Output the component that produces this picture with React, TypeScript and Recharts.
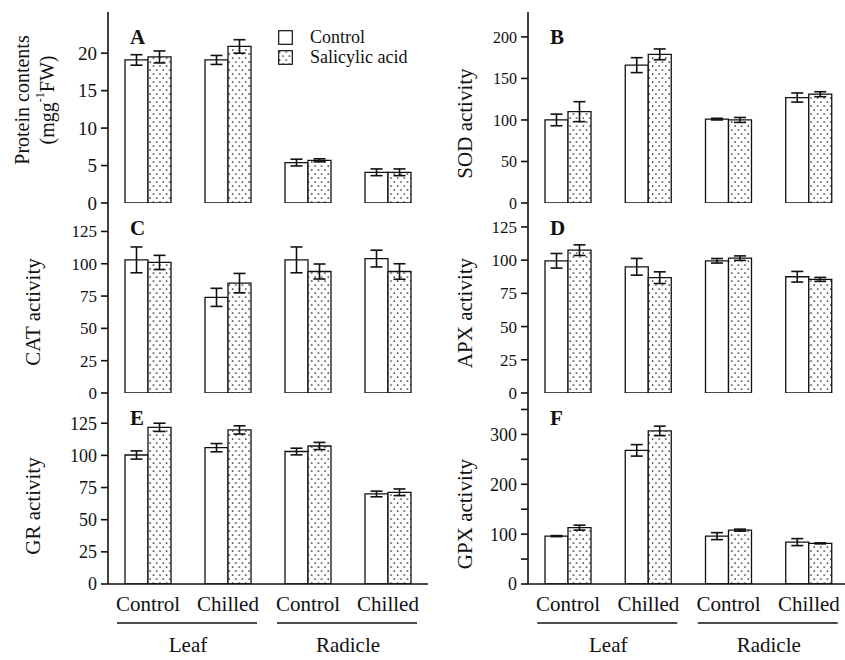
import React from "react";
import { BarChart, Bar, XAxis, YAxis, ErrorBar, Legend } from "recharts";

const treatments = ["Control", "Chilled", "Control", "Chilled"];
const tissues = ["Leaf", "Leaf", "Radicle", "Radicle"];

const proteinControl = [19.1, 19.1, 5.4, 4.1];
const proteinControlErr = [0.7, 0.6, 0.45, 0.45];
const proteinSA = [19.5, 20.9, 5.7, 4.1];
const proteinSAErr = [0.8, 0.9, 0.2, 0.45];

const sodControl = [100, 166, 101, 127];
const sodControlErr = [7, 9, 1, 5.5];
const sodSA = [110, 179, 100, 131];
const sodSAErr = [12, 6.5, 3, 3];

const catControl = [103, 74, 103, 104];
const catControlErr = [10, 7, 10, 6.5];
const catSA = [101, 85, 94, 94];
const catSAErr = [5.5, 7.5, 5.8, 6];

const apxControl = [99.5, 95, 99.5, 87.5];
const apxControlErr = [5.5, 6.3, 1.7, 4];
const apxSA = [107.5, 86.8, 101.5, 85.5];
const apxSAErr = [4, 4.4, 1.7, 1.5];

const grControl = [100.3, 106, 103, 70];
const grControlErr = [3.2, 3.2, 2.6, 2.2];
const grSA = [121.8, 119.8, 107.3, 71.3];
const grSAErr = [3.2, 3.2, 2.8, 2.6];

const gpxControl = [96, 268, 96, 84];
const gpxControlErr = [1, 11.5, 7, 7];
const gpxSA = [113, 307, 108, 81.5];
const gpxSAErr = [5, 9.5, 2, 1];

const FONT = '"Liberation Serif", "Times New Roman", serif';
const INK = "#111";

function rows(c: number[], ce: number[], s: number[], se: number[]) {
  return treatments.map((t, i) => ({
    treatment: t,
    tissue: tissues[i],
    control: c[i],
    controlErr: ce[i],
    sa: s[i],
    saErr: se[i],
  }));
}

const TissueTick = (props: any) => {
  const { x, y, payload } = props;
  return (
    <g>
      <line x1={x - 71} x2={x + 69} y1={y} y2={y} stroke={INK} strokeWidth={1.3} />
      <text x={x} y={y + 29} textAnchor="middle" fontSize={21} fontFamily={FONT} fill={INK}>
        {payload.value}
      </text>
    </g>
  );
};

const LegendBox = (props: any) => {
  const { payload } = props;
  return (
    <div style={{ fontFamily: FONT, fontSize: 18, color: INK }}>
      {(payload || []).map((p: any, i: number) => (
        <div key={i} style={{ display: "flex", alignItems: "center", height: 20 }}>
          <svg width={15} height={15}>
            <defs>
              <pattern id="legdots" width="6.6" height="8" patternUnits="userSpaceOnUse">
                <rect width="6.6" height="8" fill="#fff" />
                <circle cx="1.6" cy="2" r="0.85" fill="#222" />
                <circle cx="4.9" cy="6" r="0.85" fill="#222" />
              </pattern>
            </defs>
            <rect x={0.7} y={0.7} width={13.6} height={13.6} fill={i === 0 ? "#fff" : "url(#legdots)"} stroke={INK} strokeWidth={1.2} />
          </svg>
          <span style={{ marginLeft: 17, lineHeight: "20px" }}>{p.value}</span>
        </div>
      ))}
    </div>
  );
};

interface PanelProps {
  data: any[];
  domain: [number, number];
  ticks: number[];
  tickFont: number;
  title: string[];
  titleDy: number;
  letter: string;
  left: number;
  top: number;
  plotHeight: number;
  column: "left" | "right";
  bottomLabels?: boolean;
  topBorder?: boolean;
  legend?: boolean;
  tickFmt?: (v: number) => string;
}

function Panel(p: PanelProps) {
  const width = p.column === "left" ? 430 : 431;
  const below = p.bottomLabels ? 76 : 14;
  const height = 12 + p.plotHeight + below;
  const pid = `dots-${p.letter}`;
  const titleX = p.column === "left" ? 33 : 45;
  const axisLine = { stroke: INK, strokeWidth: 1.6 };

  const renderTitle = (props: any) => {
    const vb = props.viewBox;
    const cy = vb.y + vb.height / 2 + p.titleDy;
    const lx = vb.x + vb.width + 22;
    const ly = vb.y + 32;
    return (
      <g>
        {p.title.length === 1 ? (
          <text x={titleX} y={cy} transform={`rotate(-90 ${titleX} ${cy})`} textAnchor="middle" dominantBaseline="central" fontSize={21} fontFamily={FONT} fill={INK}>
            {p.title[0]}
          </text>
        ) : (
          p.title.map((t, i) => {
            const tx = 22 + i * 25;
            return (
              <text key={i} x={tx} y={cy} transform={`rotate(-90 ${tx} ${cy})`} textAnchor="middle" dominantBaseline="central" fontSize={20} fontFamily={FONT} fill={INK}>
                {i === 1 ? (
                  <>
                    (mgg<tspan fontSize={12} dy={-7}>-1</tspan>
                    <tspan dy={7}>FW)</tspan>
                  </>
                ) : (
                  t
                )}
              </text>
            );
          })
        )}
        <text x={lx} y={ly} fontSize={21} fontWeight="bold" fontFamily={FONT} fill={INK}>
          {p.letter}
        </text>
      </g>
    );
  };

  return (
    <div style={{ position: "absolute", left: p.left, top: p.top }}>
      <BarChart
        width={width}
        height={height}
        data={p.data}
        margin={{ top: 12, right: 2, bottom: p.bottomLabels ? 0 : 14, left: 0 }}
        barGap={0}
        barSize={23}
      >
        <defs>
          <pattern id={pid} width="6.6" height="8" patternUnits="userSpaceOnUse">
            <rect width="6.6" height="8" fill="#fff" />
            <circle cx="1.6" cy="2" r="0.85" fill="#222" />
            <circle cx="4.9" cy="6" r="0.85" fill="#222" />
          </pattern>
        </defs>
        <XAxis
          dataKey="treatment"
          height={p.bottomLabels ? 36 : 0}
          interval={0}
          tick={p.bottomLabels ? { fontSize: 21, fontFamily: FONT, fill: INK } : false}
          tickLine={false}
          tickSize={6}
          tickMargin={6}
          axisLine={axisLine}
        />
        {p.bottomLabels && (
          <XAxis
            xAxisId="tissue"
            dataKey="tissue"
            allowDuplicatedCategory={false}
            height={40}
            axisLine={false}
            tickLine={false}
            tickSize={3}
            tickMargin={0}
            interval={0}
            tick={<TissueTick />}
          />
        )}
        {p.topBorder && (
          <XAxis xAxisId="top" orientation="top" dataKey="treatment" height={0} tick={false} tickLine={false} axisLine={axisLine} />
        )}
        <YAxis
          width={108}
          domain={p.domain}
          ticks={p.ticks}
          allowDataOverflow
          interval={0}
          tickFormatter={p.tickFmt}
          tick={{ fontSize: p.tickFont, fontFamily: FONT, fill: INK }}
          tickSize={7}
          tickMargin={4}
          tickLine={{ stroke: INK, strokeWidth: 1.6 }}
          axisLine={axisLine}
          label={renderTitle}
        />
        {p.column === "left" && (
          <YAxis yAxisId="right" orientation="right" width={0} tick={false} tickLine={false} axisLine={axisLine} />
        )}
        {p.legend && (
          <Legend
            layout="vertical"
            align="center"
            verticalAlign="middle"
            content={<LegendBox />}
            wrapperStyle={{ left: 278, top: 27, width: "auto", height: "auto" }}
          />
        )}
        <Bar dataKey="control" name="Control" fill="#fff" stroke={INK} strokeWidth={1.3} isAnimationActive={false}>
          <ErrorBar dataKey="controlErr" width={6} stroke={INK} strokeWidth={1.6} />
        </Bar>
        <Bar dataKey="sa" name="Salicylic acid" fill={`url(#${pid})`} stroke={INK} strokeWidth={1.3} isAnimationActive={false}>
          <ErrorBar dataKey="saErr" width={6} stroke={INK} strokeWidth={1.6} />
        </Bar>
      </BarChart>
    </div>
  );
}

export default function App() {
  return (
    <div style={{ position: "absolute", left: 0, top: 0, width: 845, height: 660, overflow: "hidden", background: "#fff" }}>
      <Panel
        data={rows(proteinControl, proteinControlErr, proteinSA, proteinSAErr)}
        domain={[0, 25.5]}
        ticks={[0, 5, 10, 15, 20]}
        tickFont={19}
        title={["Protein contents", "(mgg-1FW)"]}
        titleDy={-7.5}
        letter="A"
        left={0}
        top={0}
        plotHeight={191}
        column="left"
        topBorder
        legend
      />
      <Panel
        data={rows(sodControl, sodControlErr, sodSA, sodSAErr)}
        domain={[0, 230]}
        ticks={[0, 50, 100, 150, 200]}
        tickFont={16}
        title={["SOD activity"]}
        titleDy={16}
        letter="B"
        left={420}
        top={0}
        plotHeight={191}
        column="right"
        topBorder
      />
      <Panel
        data={rows(catControl, catControlErr, catSA, catSAErr)}
        domain={[0, 147]}
        ticks={[0, 25, 50, 75, 100, 125]}
        tickFont={17}
        title={["CAT activity"]}
        titleDy={14}
        letter="C"
        left={0}
        top={191}
        plotHeight={190}
        column="left"
      />
      <Panel
        data={rows(apxControl, apxControlErr, apxSA, apxSAErr)}
        domain={[0, 143]}
        ticks={[0, 25, 50, 75, 100, 125]}
        tickFont={17}
        title={["APX activity"]}
        titleDy={15}
        letter="D"
        left={420}
        top={191}
        plotHeight={190}
        column="right"
      />
      <Panel
        data={rows(grControl, grControlErr, grSA, grSAErr)}
        domain={[0, 148.5]}
        ticks={[0, 25, 50, 75, 100, 125]}
        tickFont={18}
        title={["GR activity"]}
        titleDy={17.5}
        letter="E"
        left={0}
        top={381}
        plotHeight={191}
        column="left"
        bottomLabels
      />
      <Panel
        data={rows(gpxControl, gpxControlErr, gpxSA, gpxSAErr)}
        domain={[0, 383]}
        ticks={[0, 50, 100, 150, 200, 250, 300, 350]}
        tickFont={18}
        tickFmt={(v: number) => (v % 100 === 0 ? String(v) : "")}
        title={["GPX activity"]}
        titleDy={25.5}
        letter="F"
        left={420}
        top={381}
        plotHeight={191}
        column="right"
        bottomLabels
      />
    </div>
  );
}
